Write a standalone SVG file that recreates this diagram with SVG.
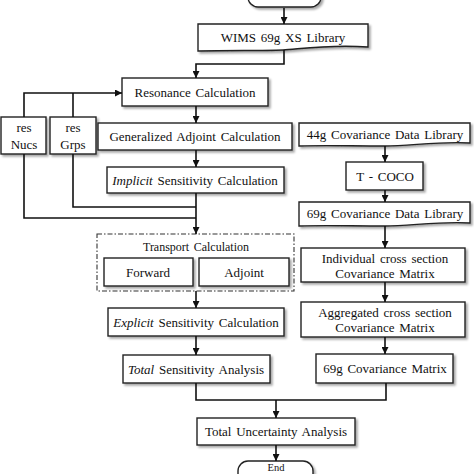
<svg xmlns="http://www.w3.org/2000/svg" width="474" height="474" viewBox="0 0 474 474">
<defs>
<marker id="ah" markerUnits="userSpaceOnUse" markerWidth="7" markerHeight="7" refX="7" refY="3.5" orient="auto">
<path d="M0,0 L7,3.5 L0,7 z" fill="#111"/>
</marker>
<filter id="sh" x="-10%" y="-10%" width="130%" height="140%">
<feDropShadow dx="2" dy="2" stdDeviation="1.2" flood-color="#000" flood-opacity="0.35"/>
</filter>
</defs>
<style>
.b{fill:#fff;stroke:#222;stroke-width:1.4;filter:url(#sh)}
.t{font-family:"Liberation Serif",serif;font-size:13px;fill:#111;text-anchor:middle;word-spacing:1.5px}
.s{font-size:12px}
.e{font-size:10.5px}
.c{fill:none;stroke:#111;stroke-width:1.6}
.a{marker-end:url(#ah)}
</style>
<rect width="474" height="474" fill="#fff"/>
<g id="start"><rect class="b" x="248" y="-30" width="73" height="37" rx="10"/></g>
<g id="wims"><path class="b" d="M198,24 H368 V47 C330,44 300,49 283,50 C260,51 230,50 198,51 Z"/><text class="t" x="283" y="42">WIMS 69g XS Library</text></g>
<g id="resonance"><rect class="b" x="122" y="78" width="146" height="28"/><text class="t" x="195" y="97">Resonance Calculation</text></g>
<g id="resnucs"><rect class="b" x="1" y="117" width="45" height="37"/><text class="t" x="24" y="132">res</text><text class="t" x="24" y="149">Nucs</text></g>
<g id="resgrps"><rect class="b" x="50" y="117" width="46" height="37"/><text class="t" x="73" y="132">res</text><text class="t" x="73" y="149">Grps</text></g>
<g id="genadj"><rect class="b" x="98" y="123" width="194" height="27"/><text class="t" x="195" y="141">Generalized Adjoint Calculation</text></g>
<g id="implicit"><rect class="b" x="107" y="167" width="177" height="26"/><text class="t" x="195" y="185"><tspan font-style="italic">Implicit</tspan> Sensitivity Calculation</text></g>
<g id="transport"><rect x="97" y="234" width="197" height="57" fill="none" stroke="#333" stroke-width="1.1" stroke-dasharray="5,2,1.5,2"/><text class="t s" x="196" y="251">Transport Calculation</text></g>
<g id="forward"><rect class="b" x="104" y="258" width="89" height="28"/><text class="t" x="148" y="277">Forward</text></g>
<g id="adjoint"><rect class="b" x="199" y="258" width="90" height="28"/><text class="t" x="244" y="277">Adjoint</text></g>
<g id="explicit"><rect class="b" x="108" y="308" width="176" height="28"/><text class="t" x="196" y="327"><tspan font-style="italic">Explicit</tspan> Sensitivity Calculation</text></g>
<g id="totalsens"><rect class="b" x="123" y="355" width="147" height="28"/><text class="t" x="196" y="374"><tspan font-style="italic">Total</tspan> Sensitivity Analysis</text></g>
<g id="lib44"><path class="b" d="M299,123 H470 V143 C440,141 410,146 385,146 C350,146 325,145 299,146 Z"/><text class="t" x="385" y="139">44g Covariance Data Library</text></g>
<g id="tcoco"><rect class="b" x="346" y="162" width="77" height="28"/><text class="t" x="385" y="181">T - COCO</text></g>
<g id="lib69"><path class="b" d="M299,202 H470 V223 C440,221 410,226 385,226 C350,226 325,225 299,226 Z"/><text class="t" x="385" y="218">69g Covariance Data Library</text></g>
<g id="individual"><rect class="b" x="301" y="248" width="164" height="34"/><text class="t" x="385" y="263">Individual cross section</text><text class="t" x="385" y="278">Covariance Matrix</text></g>
<g id="aggregated"><rect class="b" x="301" y="302" width="164" height="35"/><text class="t" x="385" y="317">Aggregated cross section</text><text class="t" x="385" y="332">Covariance Matrix</text></g>
<g id="cov69"><rect class="b" x="316" y="354" width="137" height="29"/><text class="t" x="385" y="373">69g Covariance Matrix</text></g>
<g id="totalunc"><rect class="b" x="197" y="418" width="158" height="27"/><text class="t" x="276" y="436">Total Uncertainty Analysis</text></g>
<g id="end"><rect class="b" x="238" y="461" width="75" height="40" rx="10"/><text class="t e" x="276" y="470.5">End</text></g>
<g id="connectors">
<path class="c a" d="M284,8 V24"/>
<path class="c a" d="M284,50 V64 H196 V78"/>
<path class="c a" d="M196,106 V123"/>
<path class="c a" d="M196,150 V167"/>
<path class="c a" d="M196,193 V234"/>
<path class="c a" d="M24,117 V93 H122"/>
<path class="c" d="M73,117 V93"/>
<path class="c" d="M24,154 V218 H196"/>
<path class="c" d="M73,154 V207 H196"/>
<path class="c a" d="M196,291 V308"/>
<path class="c a" d="M196,336 V355"/>
<path class="c" d="M196,383 V400 H386 V383"/>
<path class="c a" d="M276,400 V418"/>
<path class="c a" d="M276,445 V461"/>
<path class="c a" d="M385,146 V162"/>
<path class="c a" d="M385,190 V202"/>
<path class="c a" d="M385,226 V248"/>
<path class="c a" d="M385,282 V302"/>
<path class="c a" d="M385,337 V354"/>
</g>
</svg>
